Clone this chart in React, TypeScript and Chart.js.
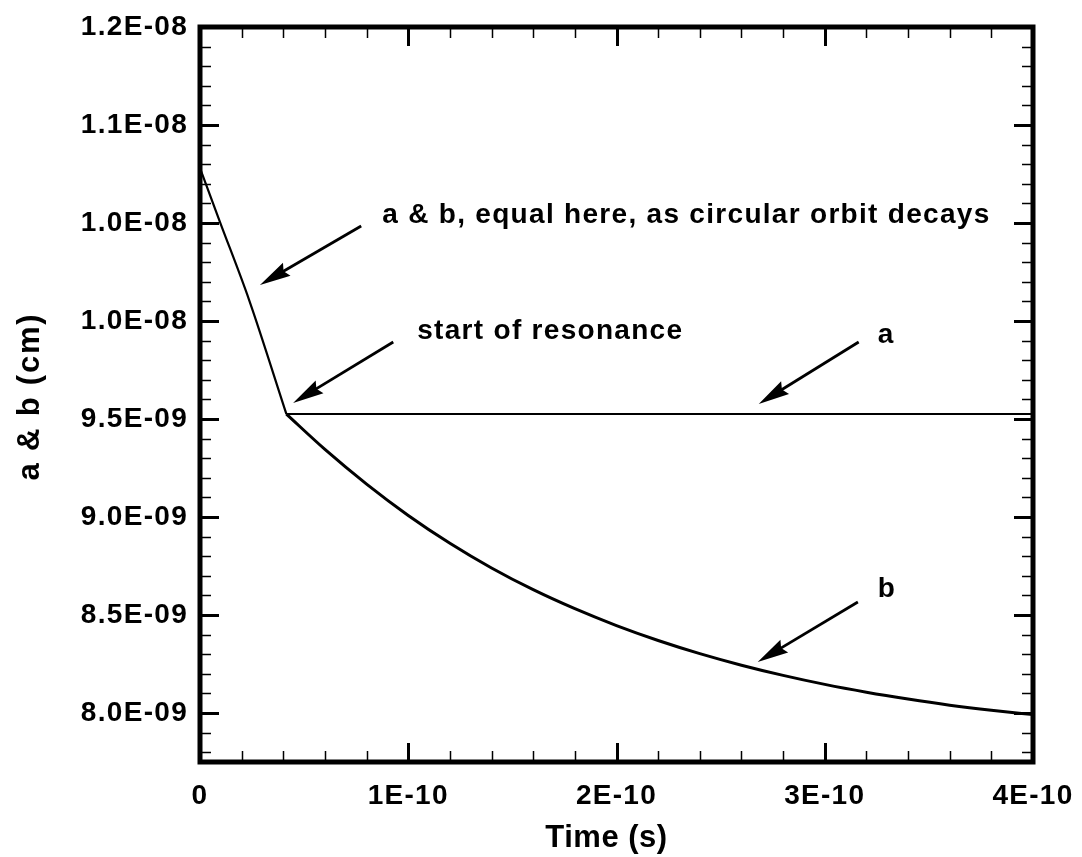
import { useEffect, useRef } from "react";
import { Chart, registerables } from "chart.js";

Chart.register(...registerables);

// Common decay of a & b before resonance sets in (time in s, size in cm)
const descentTime = [0, 0.96e-11, 2.36e-11, 4.15e-11];
const descentAB = [1.078e-8, 1.0505e-8, 1.0107e-8, 9.525e-9];

// Semi-axis a stays fixed after the start of resonance
const aTime = [4.15e-11, 4.0e-10];
const aValues = [9.525e-9, 9.525e-9];

// Semi-axis b keeps shrinking
const bTime = [
  4.15e-11, 0.6e-10, 0.8e-10, 1.0e-10, 1.2e-10, 1.4e-10, 1.6e-10, 1.8e-10, 2.0e-10,
  2.2e-10, 2.4e-10, 2.6e-10, 2.8e-10, 3.0e-10, 3.2e-10, 3.4e-10, 3.6e-10, 3.8e-10, 4.0e-10,
];
const bValues = [
  9.525e-9, 9.345e-9, 9.168e-9, 9.008e-9, 8.866e-9, 8.74e-9, 8.629e-9, 8.532e-9, 8.446e-9,
  8.37e-9, 8.303e-9, 8.244e-9, 8.192e-9, 8.146e-9, 8.106e-9, 8.071e-9, 8.04e-9, 8.014e-9, 7.992e-9,
];

const xTickValues = [0, 1e-10, 2e-10, 3e-10, 4e-10];
const xTickLabels = ["0", "1E-10", "2E-10", "3E-10", "4E-10"];
const yTickValues = [8.0e-9, 8.5e-9, 9.0e-9, 9.5e-9, 1.0e-8, 1.05e-8, 1.1e-8, 1.15e-8];
const yTickLabels = ["8.0E-09", "8.5E-09", "9.0E-09", "9.5E-09", "1.0E-08", "1.0E-08", "1.1E-08", "1.2E-08"];

// Callouts: text anchor and arrow in data coordinates
const noteTexts = ["a & b, equal here, as circular orbit decays", "start of resonance", "a", "b"];
const noteTextX = [8.75e-11, 1.043e-10, 3.255e-10, 3.255e-10];
const noteTextY = [1.05e-8, 9.908e-9, 9.888e-9, 8.592e-9];
const arrowTailX = [7.74e-11, 9.28e-11, 3.163e-10, 3.159e-10];
const arrowTailY = [1.0485e-8, 9.893e-9, 9.893e-9, 8.566e-9];
const arrowTipX = [2.88e-11, 4.47e-11, 2.683e-10, 2.678e-10];
const arrowTipY = [1.0184e-8, 9.582e-9, 9.577e-9, 8.26e-9];

const X_MIN = 0;
const X_MAX = 4e-10;
const Y_MIN = 7.75e-9;
const Y_MAX = 1.15e-8;

const TEXT_FONT = '"Liberation Sans", Arial, Helvetica, sans-serif';
const TEXT_SPACING = "1.3px";

const toPoints = (xs: number[], ys: number[]) => xs.map((v, i) => ({ x: v, y: ys[i] }));

const framePlugin = {
  id: "tecFrame",
  beforeDraw(chart: any) {
    // widen glyph spacing for all text drawn by the chart
    chart.ctx.letterSpacing = TEXT_SPACING;
  },
  afterDatasetsDraw(chart: any) {
    const { ctx, chartArea, scales } = chart;
    const { left, right, top, bottom } = chartArea;
    const xs = scales.x;
    const ys = scales.y;
    ctx.save();
    ctx.strokeStyle = "#000";
    ctx.fillStyle = "#000";
    ctx.lineCap = "butt";

    const majorLen = 19;
    const minorLen = 11;

    const tickX = (v: number, len: number) => {
      const px = Math.round(xs.getPixelForValue(v)) + 0.5;
      ctx.beginPath();
      ctx.moveTo(px, bottom);
      ctx.lineTo(px, bottom - len);
      ctx.moveTo(px, top);
      ctx.lineTo(px, top + len);
      ctx.stroke();
    };
    const tickY = (v: number, len: number) => {
      const py = Math.round(ys.getPixelForValue(v)) + 0.5;
      ctx.beginPath();
      ctx.moveTo(left, py);
      ctx.lineTo(left + len, py);
      ctx.moveTo(right, py);
      ctx.lineTo(right - len, py);
      ctx.stroke();
    };

    // minor ticks: five subdivisions per major interval
    ctx.lineWidth = 1.5;
    for (let i = 0; i <= 20; i++) {
      if (i % 5 === 0) continue;
      tickX(i * 2e-11, minorLen);
    }
    for (let i = 78; i <= 114; i++) {
      if (i % 5 === 0) continue;
      tickY(i * 1e-10, minorLen);
    }
    // major ticks
    ctx.lineWidth = 3;
    xTickValues.forEach((v) => tickX(v, majorLen));
    yTickValues.forEach((v) => tickY(v, majorLen));

    // frame
    ctx.lineWidth = 5;
    ctx.lineJoin = "miter";
    ctx.strokeRect(left, top, right - left, bottom - top);

    // callout arrows
    for (let i = 0; i < arrowTipX.length; i++) {
      const sx = xs.getPixelForValue(arrowTailX[i]);
      const sy = ys.getPixelForValue(arrowTailY[i]);
      const tx = xs.getPixelForValue(arrowTipX[i]);
      const ty = ys.getPixelForValue(arrowTipY[i]);
      const ang = Math.atan2(ty - sy, tx - sx);
      const c = Math.cos(ang);
      const s = Math.sin(ang);
      const headLen = 31;
      const headHalf = 7.5;
      ctx.lineWidth = 2.8;
      ctx.beginPath();
      ctx.moveTo(sx, sy);
      ctx.lineTo(tx - c * headLen * 0.7, ty - s * headLen * 0.7);
      ctx.stroke();
      const bx = tx - c * headLen;
      const by = ty - s * headLen;
      ctx.beginPath();
      ctx.moveTo(tx, ty);
      ctx.lineTo(bx - s * headHalf, by + c * headHalf);
      ctx.lineTo(tx - c * headLen * 0.88, ty - s * headLen * 0.88);
      ctx.lineTo(bx + s * headHalf, by - c * headHalf);
      ctx.closePath();
      ctx.fill();
    }

    // callout texts
    ctx.letterSpacing = TEXT_SPACING;
    ctx.font = `bold 28px ${TEXT_FONT}`;
    ctx.textAlign = "left";
    ctx.textBaseline = "alphabetic";
    noteTexts.forEach((t, i) => {
      ctx.fillText(t, xs.getPixelForValue(noteTextX[i]), ys.getPixelForValue(noteTextY[i]));
    });

    // axis titles
    ctx.font = `bold 31px ${TEXT_FONT}`;
    ctx.textAlign = "center";
    ctx.textBaseline = "alphabetic";
    ctx.letterSpacing = "0.5px";
    ctx.fillText("Time (s)", (left + right) / 2 - 10, bottom + 85);
    ctx.save();
    ctx.letterSpacing = "1.8px";
    ctx.translate(30, (top + bottom) / 2 + 2);
    ctx.rotate(-Math.PI / 2);
    ctx.textBaseline = "middle";
    ctx.fillText("a & b (cm)", 0, 0);
    ctx.restore();

    ctx.restore();
  },
};

export default function App() {
  const canvasRef = useRef<HTMLCanvasElement | null>(null);

  useEffect(() => {
    document.body.style.margin = "0";
    const canvas = canvasRef.current;
    if (!canvas) return;

    const lineStyle = {
      borderColor: "#000",
      backgroundColor: "#000",
      pointRadius: 0,
      fill: false,
      showLine: true,
    };

    const chart = new Chart(canvas, {
      type: "scatter",
      data: {
        datasets: [
          { label: "a & b", data: toPoints(descentTime, descentAB), borderWidth: 2.2, cubicInterpolationMode: "monotone", ...lineStyle },
          { label: "a", data: toPoints(aTime, aValues), borderWidth: 2, tension: 0, ...lineStyle },
          { label: "b", data: toPoints(bTime, bValues), borderWidth: 3, cubicInterpolationMode: "monotone", ...lineStyle },
        ],
      },
      options: {
        responsive: false,
        animation: false,
        events: [],
        layout: { padding: { top: 27, right: 49, left: 0, bottom: 0 } },
        plugins: { legend: { display: false }, tooltip: { enabled: false } },
        scales: {
          x: {
            type: "linear",
            min: X_MIN,
            max: X_MAX,
            grid: { display: false, drawTicks: false },
            border: { display: false },
            afterBuildTicks: (s: any) => {
              s.ticks = xTickValues.map((v) => ({ value: v }));
            },
            afterFit: (s: any) => {
              s.height = 95;
              s.paddingLeft = 0;
              s.paddingRight = 0;
            },
            ticks: {
              autoSkip: false,
              maxRotation: 0,
              padding: 17,
              color: "#000",
              font: { family: TEXT_FONT, size: 28, weight: "bold" },
              callback: (_v: any, i: number) => xTickLabels[i],
            },
          },
          y: {
            type: "linear",
            min: Y_MIN,
            max: Y_MAX,
            grid: { display: false, drawTicks: false },
            border: { display: false },
            afterBuildTicks: (s: any) => {
              s.ticks = yTickValues.map((v) => ({ value: v }));
            },
            afterFit: (s: any) => {
              s.width = 200;
              s.paddingTop = 0;
              s.paddingBottom = 0;
            },
            ticks: {
              autoSkip: false,
              padding: 12,
              color: "#000",
              font: { family: TEXT_FONT, size: 28, weight: "bold" },
              callback: (_v: any, i: number) => yTickLabels[i],
            },
          },
        },
      },
      plugins: [framePlugin],
    });

    return () => chart.destroy();
  }, []);

  return (
    <div style={{ width: 1082, height: 857, background: "#fff" }}>
      <canvas ref={canvasRef} width={1082} height={857} style={{ display: "block" }} />
    </div>
  );
}
